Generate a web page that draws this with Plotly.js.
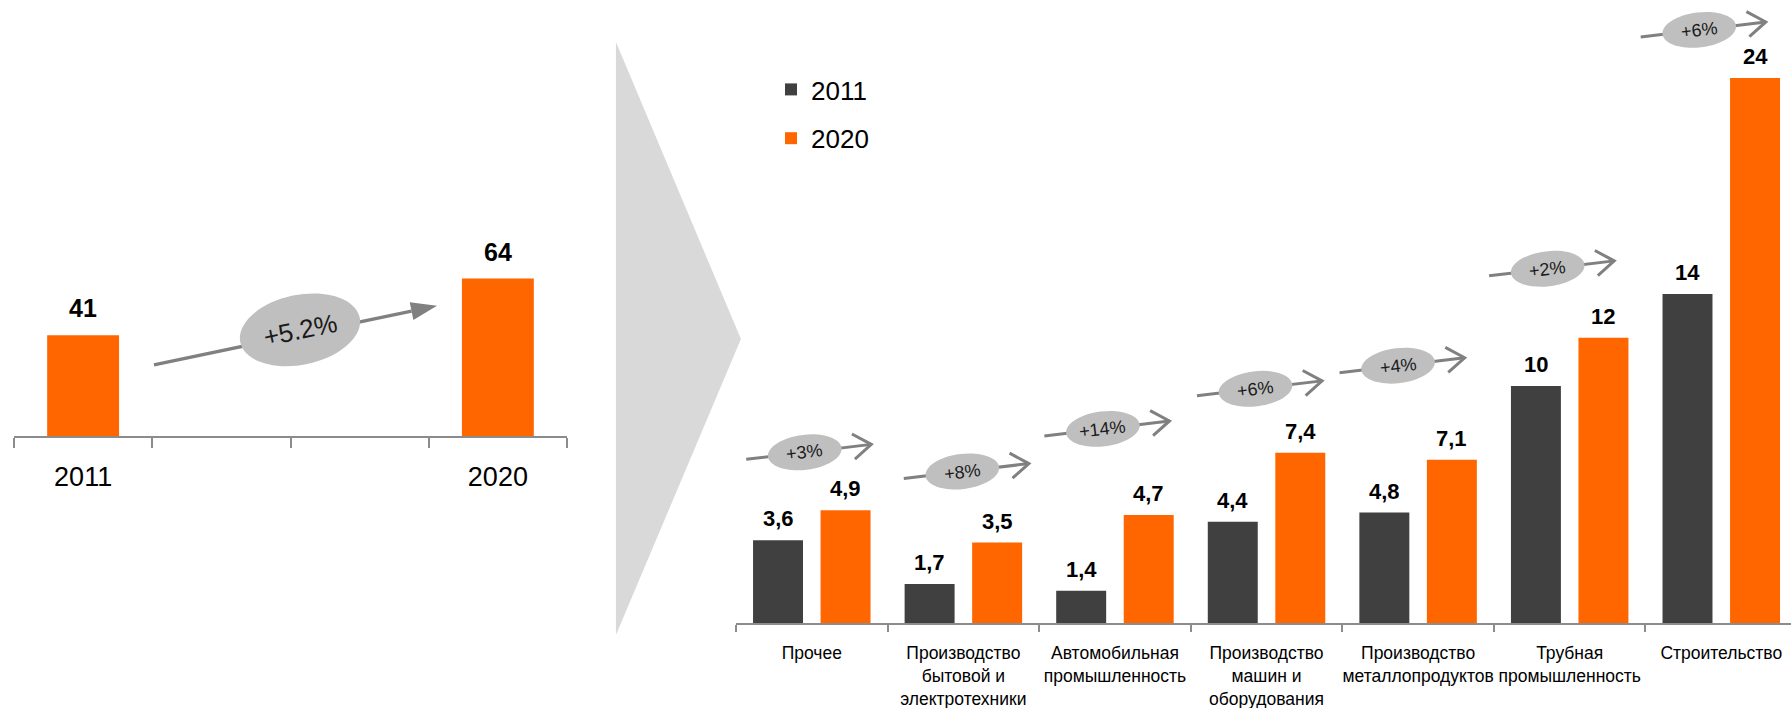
<!DOCTYPE html>
<html><head><meta charset="utf-8">
<script src="https://cdn.plot.ly/plotly-3.0.1.min.js"></script>
<style>html,body{margin:0;padding:0;background:#fff;} #chart{width:1791px;height:708px;}</style>
</head><body><div id="chart"></div>
<script>
// ---------- DATA ----------
const totalYears = [2011, 2020];
const totalValues = [41, 64];
const totalLabels = ['41', '64'];
const totalGrowth = '+5.2%';

const categories = [
  'Прочее',
  'Производство<br>бытовой и<br>электротехники',
  'Автомобильная<br>промышленность',
  'Производство<br>машин и<br>оборудования',
  'Производство<br>металлопродуктов',
  'Трубная<br>промышленность',
  'Строительство'
];
const seriesNames = ['2011', '2020'];
const values2011 = [3.6, 1.7, 1.4, 4.4, 4.8, 10.3, 14.3];
const values2020 = [4.9, 3.5, 4.7, 7.4, 7.1, 12.4, 23.7];
const labels2011 = ['3,6', '1,7', '1,4', '4,4', '4,8', '10', '14'];
const labels2020 = ['4,9', '3,5', '4,7', '7,4', '7,1', '12', '24'];
const growth = ['+3%', '+8%', '+14%', '+6%', '+4%', '+2%', '+6%'];

// ---------- STYLE / LAYOUT CONSTANTS ----------
const W = 1791, H = 708;
const FONT = '"Liberation Sans Narrow", "Arial Narrow", "Liberation Sans", Arial, sans-serif';
const DARK = '#404040', ORANGE = '#ff6600', AXIS = '#8c8c8c';
const BADGE_FILL = '#bfbfbf', BADGE_LINE = '#808080';
const BARGAP = 0.109, BARGROUPGAP = 0.26;
// pixel offsets of each growth badge (relative to category centre / top of taller bar)
const badgeDx = [-7, -1, -12, -11, -20, -22, -22];
const badgeLift = [58, 71, 86, 64, 94, 69, 48];

function f(n) { return n.toFixed(2); }
function rot(u, v, th) { return [u * Math.cos(th) - v * Math.sin(th), u * Math.sin(th) + v * Math.cos(th)]; }
function ellipsePath(cx, cy, rx, ry, th) {
  const k = 0.5523;
  const P = (u, v) => { const r = rot(u, v, th); return f(cx + r[0]) + ',' + f(cy + r[1]); };
  return 'M' + P(rx, 0) +
    ' C' + P(rx, k * ry) + ' ' + P(k * rx, ry) + ' ' + P(0, ry) +
    ' C' + P(-k * rx, ry) + ' ' + P(-rx, k * ry) + ' ' + P(-rx, 0) +
    ' C' + P(-rx, -k * ry) + ' ' + P(-k * rx, -ry) + ' ' + P(0, -ry) +
    ' C' + P(k * rx, -ry) + ' ' + P(rx, -k * ry) + ' ' + P(rx, 0) + ' Z';
}

const traces = [
  {
    type: 'bar', x: totalYears, y: totalValues, xaxis: 'x', yaxis: 'y',
    width: 1.56, marker: { color: ORANGE }, showlegend: false, hoverinfo: 'skip'
  },
  {
    type: 'bar', name: seriesNames[0], x: categories, y: values2011, xaxis: 'x2', yaxis: 'y2',
    marker: { color: DARK }, legendgroup: 'a', hoverinfo: 'skip'
  },
  {
    type: 'bar', name: seriesNames[1], x: categories, y: values2020, xaxis: 'x2', yaxis: 'y2',
    marker: { color: ORANGE }, legendgroup: 'b', hoverinfo: 'skip'
  }
];

const annotations = [];
const shapes = [];

// big chevron separator
shapes.push({
  type: 'path', xref: 'paper', yref: 'paper', layer: 'below',
  path: 'M' + (616 / W).toFixed(4) + ',' + (1 - 42 / H).toFixed(4) + ' L' + (741 / W).toFixed(4) + ',' + (1 - 339 / H).toFixed(4) +
    ' L' + (616 / W).toFixed(4) + ',' + (1 - 635 / H).toFixed(4) + ' Z',
  fillcolor: '#d9d9d9', line: { width: 0 }
});

// left value labels
totalYears.forEach((yr, i) => {
  annotations.push({
    xref: 'x', yref: 'y', x: yr, y: totalValues[i], text: '<b>' + totalLabels[i] + '</b>',
    showarrow: false, yanchor: 'bottom', yshift: 11, font: { size: 25, color: '#000', family: FONT }
  });
});

// left growth arrow
(function () {
  const ax = (totalYears[0] + totalYears[1]) / 2;
  const ay = (totalValues[0] + totalValues[1]) / 2;
  const s = [-136.5, -58], t = [146.5, 1];
  const th = Math.atan2(t[1] - s[1], t[0] - s[0]);
  const headLen = 26, headHalf = 9;
  const base = [t[0] - headLen * Math.cos(th), t[1] - headLen * Math.sin(th)];
  const common = { type: 'path', xref: 'x', yref: 'y', xsizemode: 'pixel', ysizemode: 'pixel', xanchor: ax, yanchor: ay };
  shapes.push(Object.assign({}, common, {
    path: 'M' + f(s[0]) + ',' + f(s[1]) + ' L' + f(base[0]) + ',' + f(base[1]),
    line: { color: BADGE_LINE, width: 3.5 }
  }));
  const n = [-Math.sin(th) * headHalf, Math.cos(th) * headHalf];
  shapes.push(Object.assign({}, common, {
    path: 'M' + f(t[0]) + ',' + f(t[1]) + ' L' + f(base[0] + n[0]) + ',' + f(base[1] + n[1]) +
      ' L' + f(base[0] - n[0]) + ',' + f(base[1] - n[1]) + ' Z',
    fillcolor: BADGE_LINE, line: { width: 0 }
  }));
  shapes.push(Object.assign({}, common, {
    path: ellipsePath(9.5, -23, 61, 35, th), fillcolor: BADGE_FILL, line: { width: 0 }
  }));
  annotations.push({
    xref: 'x', yref: 'y', x: ax, y: ay, xshift: 9.5, yshift: -23, text: totalGrowth, showarrow: false,
    textangle: -th * 180 / Math.PI, font: { size: 26, color: '#1a1a1a', family: FONT }
  });
})();

// right value labels & badges
const barOff = (1 - BARGAP) / 4;
categories.forEach((c, i) => {
  annotations.push({
    xref: 'x2', yref: 'y2', x: i - barOff, y: values2011[i], text: '<b>' + labels2011[i] + '</b>',
    showarrow: false, yanchor: 'bottom', yshift: 7, font: { size: 22, color: '#000', family: FONT }
  });
  annotations.push({
    xref: 'x2', yref: 'y2', x: i + barOff, y: values2020[i], text: '<b>' + labels2020[i] + '</b>',
    showarrow: false, yanchor: 'bottom', yshift: 7, font: { size: 22, color: '#000', family: FONT }
  });
  const ymax = Math.max(values2011[i], values2020[i]);
  const th = 6.8 * Math.PI / 180;
  const cx = badgeDx[i], cy = badgeLift[i];
  const d = [Math.cos(th), Math.sin(th)];
  const s = [cx - 59 * d[0], cy - 59 * d[1]];
  const t = [cx + 67 * d[0], cy + 67 * d[1]];
  const L = 22, phi = 35 * Math.PI / 180;
  const a1 = rot(-d[0] * L, -d[1] * L, phi), a2 = rot(-d[0] * L, -d[1] * L, -phi);
  const common = { type: 'path', xref: 'x2', yref: 'y2', xsizemode: 'pixel', ysizemode: 'pixel', xanchor: i, yanchor: ymax };
  shapes.push(Object.assign({}, common, {
    path: 'M' + f(s[0]) + ',' + f(s[1]) + ' L' + f(t[0]) + ',' + f(t[1]),
    line: { color: BADGE_LINE, width: 3 }
  }));
  shapes.push(Object.assign({}, common, {
    path: 'M' + f(t[0] + a1[0]) + ',' + f(t[1] + a1[1]) + ' L' + f(t[0]) + ',' + f(t[1]) +
      ' L' + f(t[0] + a2[0]) + ',' + f(t[1] + a2[1]),
    line: { color: BADGE_LINE, width: 3 }
  }));
  shapes.push(Object.assign({}, common, {
    path: ellipsePath(cx, cy, 37, 17.5, th), fillcolor: BADGE_FILL, line: { width: 0 }
  }));
  annotations.push({
    xref: 'x2', yref: 'y2', x: i, y: ymax, xshift: cx, yshift: cy, text: growth[i], showarrow: false,
    textangle: -6.8, font: { size: 18, color: '#1a1a1a', family: FONT }
  });
});

const layout = {
  width: W, height: H, margin: { l: 0, r: 0, t: 0, b: 0 },
  paper_bgcolor: '#fff', plot_bgcolor: 'rgba(0,0,0,0)',
  font: { family: FONT, color: '#000' },
  barmode: 'group', bargap: BARGAP, bargroupgap: BARGROUPGAP,
  showlegend: true,
  legend: {
    x: 771 / W, xanchor: 'left', y: 1 - 66 / H, yanchor: 'top',
    font: { size: 26, color: '#000', family: FONT }, bgcolor: 'rgba(0,0,0,0)',
    traceorder: 'grouped', tracegroupgap: 12
  },
  xaxis: {
    domain: [14 / W, 567 / W], range: [2009.5, 2021.5],
    tickmode: 'array', tickvals: totalYears, ticktext: totalYears.map(String), ticks: '',
    showline: true, linecolor: AXIS, linewidth: 2, showgrid: false, zeroline: false,
    tickfont: { size: 27, color: '#000', family: FONT }, ticklabelstandoff: 16, tickangle: 0,
    minor: { tickmode: 'array', tickvals: [2009.5, 2012.5, 2015.5, 2018.5, 2021.5], ticks: 'outside', ticklen: 10, tickwidth: 2, tickcolor: AXIS, showgrid: false },
    fixedrange: true
  },
  yaxis: { domain: [1 - 436 / H, 1 - 200 / H], range: [0, 236 / 2.46], visible: false, fixedrange: true },
  xaxis2: {
    anchor: 'y2', domain: [736 / W, 1], type: 'category', range: [-0.5, 6.46],
    tickson: 'boundaries', ticks: 'outside', ticklen: 7, tickwidth: 2, tickcolor: AXIS,
    showline: true, linecolor: AXIS, linewidth: 2, showgrid: false, zeroline: false,
    tickangle: 0, ticklabelstandoff: 13,
    tickfont: { size: 17.5, color: '#000', family: FONT }, fixedrange: true
  },
  yaxis2: { anchor: 'x2', domain: [1 - 623 / H, 1], range: [0, 623 / 23], visible: false, fixedrange: true },
  shapes: shapes,
  annotations: annotations
};

Plotly.newPlot('chart', traces, layout, { staticPlot: true, displayModeBar: false });
</script>
</body></html>
